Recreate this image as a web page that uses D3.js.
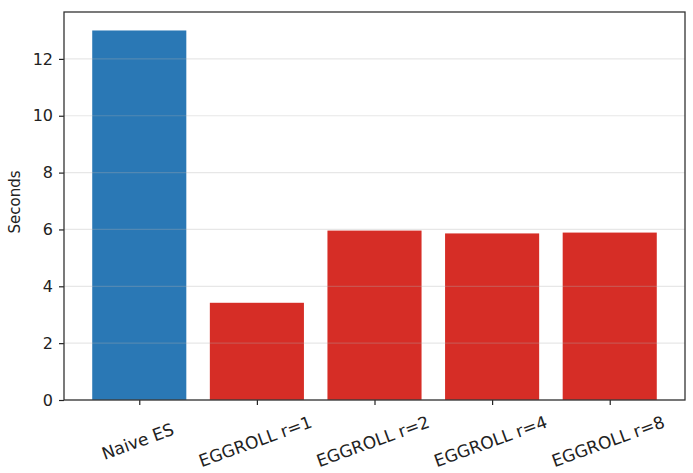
<!DOCTYPE html>
<html>
<head>
  <meta charset="utf-8">
  <script src="https://cdn.jsdelivr.net/npm/d3@7"></script>
  <style>
    body { margin: 0; background: #fff; }
    text { font-family: "DejaVu Sans", sans-serif; fill: #222; }
  </style>
</head>
<body>
<div id="chart"></div>
<script>
  var categories = ['Naive ES', 'EGGROLL r=1', 'EGGROLL r=2', 'EGGROLL r=4', 'EGGROLL r=8'];
  var seconds = [13.0, 3.42, 5.96, 5.86, 5.89];
  var barColors = ['#2a78b5', '#d62d26', '#d62d26', '#d62d26', '#d62d26'];
  var yTicks = [0, 2, 4, 6, 8, 10, 12];

  var W = 693, H = 473;
  var margin = {top: 12, right: 8, bottom: 73, left: 64};
  var w = W - margin.left - margin.right;
  var h = H - margin.top - margin.bottom;

  var svg = d3.select('#chart').append('svg')
    .attr('width', W)
    .attr('height', H);

  var g = svg.append('g')
    .attr('transform', 'translate(' + margin.left + ',' + margin.top + ')');

  // matplotlib style x limits: bars of width 0.8 with 5% margin
  var x = d3.scaleLinear().domain([-0.64, categories.length - 1 + 0.64]).range([0, w]);
  var y = d3.scaleLinear().domain([0, 13.0 * 1.05]).range([h, 0]);
  var barW = x(0.8) - x(0);

  g.selectAll('rect.bar')
    .data(seconds)
    .enter().append('rect')
    .attr('class', 'bar')
    .attr('x', function(d, i) { return x(i) - barW / 2; })
    .attr('width', barW)
    .attr('y', function(d) { return y(d); })
    .attr('height', function(d) { return h - y(d); })
    .attr('fill', function(d, i) { return barColors[i]; });

  // grid over the bars, faint
  g.selectAll('line.grid')
    .data(yTicks)
    .enter().append('line')
    .attr('class', 'grid')
    .attr('x1', 0).attr('x2', w)
    .attr('y1', function(d) { return y(d); })
    .attr('y2', function(d) { return y(d); })
    .attr('stroke', '#b0b0b0')
    .attr('stroke-opacity', 0.3)
    .attr('stroke-width', 1.2);

  var yAxis = g.append('g')
    .call(d3.axisLeft(y).tickValues(yTicks).tickSize(5).tickPadding(6).tickFormat(d3.format('d')));
  yAxis.select('.domain').remove();
  yAxis.selectAll('line').attr('stroke', '#222').attr('stroke-width', 1.2);
  yAxis.selectAll('text').style('font-size', '16px').attr('fill', '#222');

  var xAxis = g.append('g')
    .attr('transform', 'translate(0,' + h + ')')
    .call(d3.axisBottom(x).tickValues(d3.range(categories.length)).tickSize(5)
      .tickFormat(function(i) { return categories[i]; }));
  xAxis.select('.domain').remove();
  xAxis.selectAll('line').attr('stroke', '#222').attr('stroke-width', 1.2);
  xAxis.selectAll('text')
    .style('font-size', '17px')
    .attr('fill', '#222')
    .attr('text-anchor', 'middle')
    .attr('dy', null)
    .attr('y', 0)
    .attr('transform', 'translate(0,47) rotate(-20)');

  // frame
  g.append('rect')
    .attr('width', w).attr('height', h)
    .attr('fill', 'none')
    .attr('stroke', '#333')
    .attr('stroke-width', 1.3);

  g.append('text')
    .attr('transform', 'translate(' + (-44) + ',' + (h / 2 - 4) + ') rotate(-90)')
    .attr('text-anchor', 'middle')
    .style('font-size', '15px')
    .text('Seconds');
</script>
</body>
</html>
